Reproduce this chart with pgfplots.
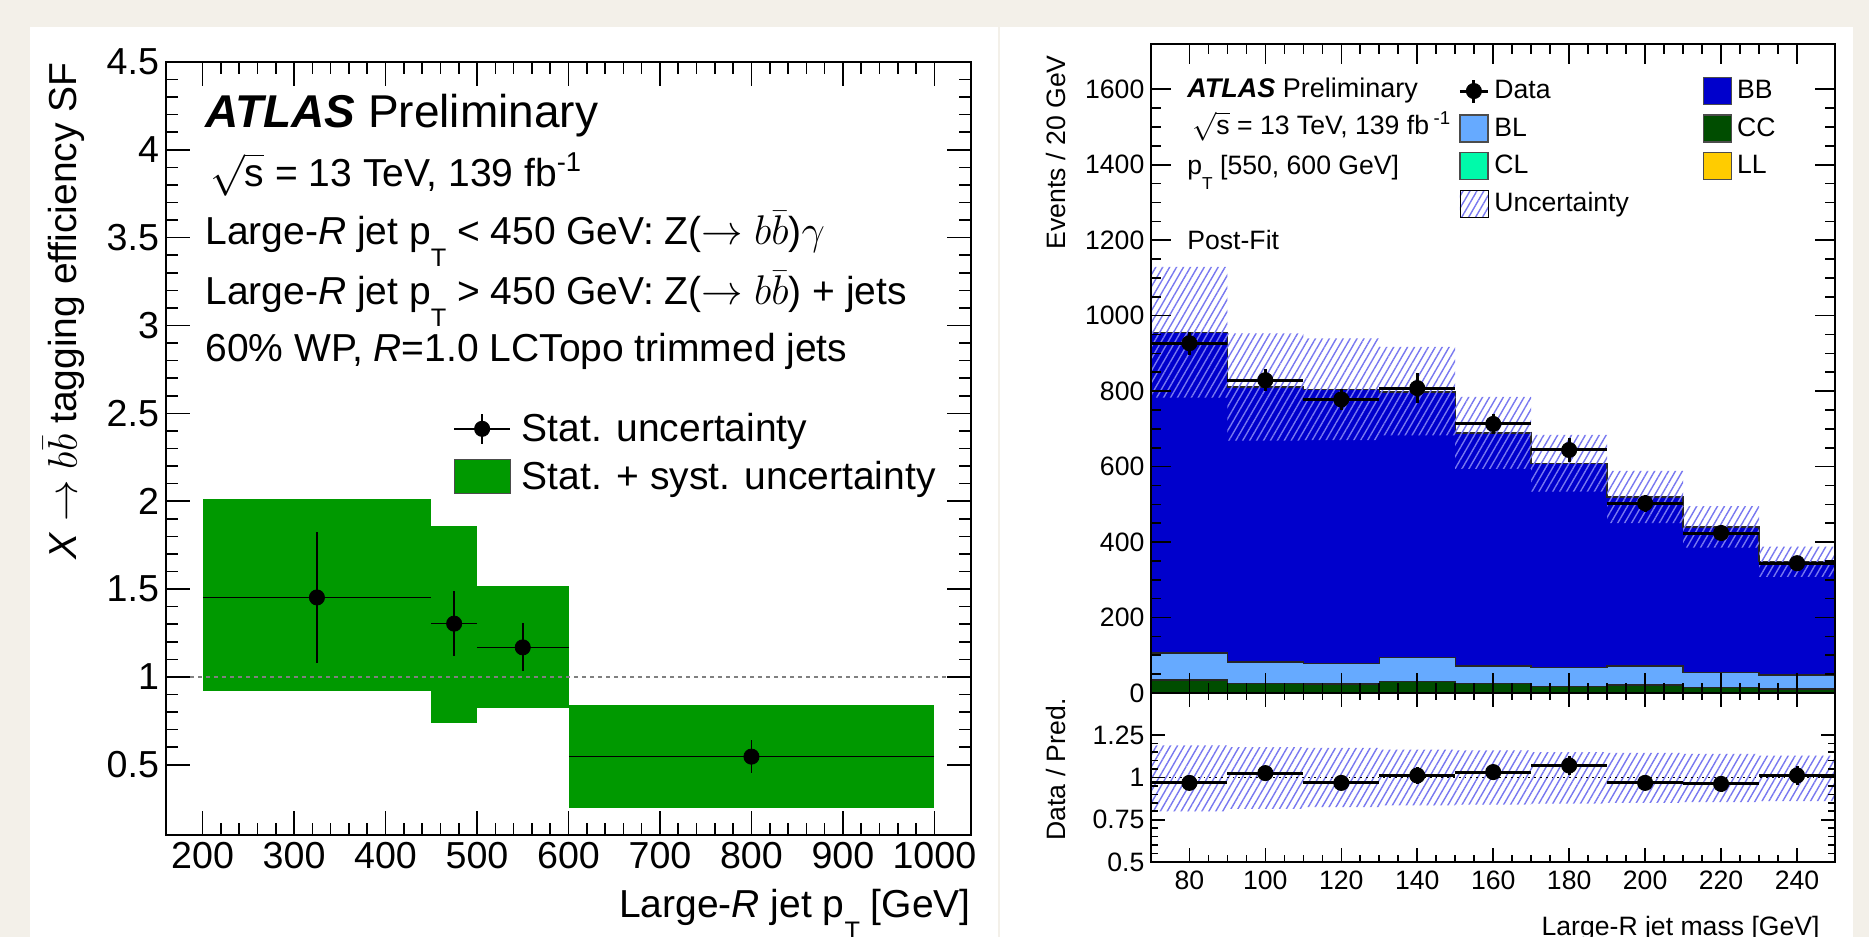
\documentclass[border=0pt]{standalone}
\usepackage{fontspec}
\setmainfont{Liberation Sans}
\usepackage{graphicx}
\usepackage{pgfplots}
\pgfplotsset{compat=1.18}
\usetikzlibrary{patterns.meta}

\definecolor{bgbeige}{RGB}{243,240,233}
\definecolor{sfgreen}{RGB}{0,153,0}
\definecolor{bbblue}{RGB}{0,0,204}
\definecolor{blblue}{RGB}{102,170,255}
\definecolor{ccgreen}{RGB}{0,77,0}
\definecolor{clgreen}{RGB}{0,250,170}
\definecolor{llyellow}{RGB}{255,204,0}
\definecolor{hatch}{RGB}{120,120,240}

\newcommand{\pT}{p\raisebox{-0.55em}{\scalebox{0.65}{T}}}

\pgfplotsset{
  rootstyle/.style={
    scale only axis, anchor=south west, axis on top,
    tick align=inside, tick pos=both,
    axis line style={line width=1pt},
    major tick style={line width=0.8pt, black},
    minor tick style={line width=0.8pt, black},
    /pgf/number format/assume math mode=true,
    /pgf/number format/1000 sep={},
  },
}

\begin{document}
\begin{tikzpicture}
\useasboundingbox (0,0) rectangle (934.5pt,468.5pt);
\clip (0,0) rectangle (934.5pt,468.5pt);
\fill[bgbeige] (0,0) rectangle (934.5pt,468.5pt);
\fill[white] (15pt,0pt) rectangle (499pt,455pt);
\fill[white] (500pt,0pt) rectangle (926.5pt,455pt);

% ---------------- left: scale factors ----------------
\begin{axis}[rootstyle,
  at={(83pt,51pt)}, width=402.5pt, height=386.5pt,
  xmin=160, xmax=1040, ymin=0.1, ymax=4.5,
  xtick={200,300,...,1000}, minor x tick num=4,
  ytick={0.5,1,...,4.5}, minor y tick num=4,
  major tick length=12pt, minor tick length=6pt,
  tick label style={font=\fontsize{18.8}{18.8}\selectfont},
  xlabel={Large-\textit{R} jet \pT{} [GeV]},
  xlabel style={at={(rel axis cs:1,0)}, anchor=base east, yshift=-41.5pt, inner sep=0pt, font=\fontsize{19.5}{19.5}\selectfont},
  ylabel={\textit{X} $\rightarrow$ $b\bar{b}$ tagging efficiency SF},
  ylabel style={at={(rel axis cs:-0.1106,1)}, anchor=base east, inner sep=0pt, font=\fontsize{19.5}{19.5}\selectfont},
  legend cell align=left,
  legend style={at={(rel axis cs:0.3565,0.557)}, anchor=north west, draw=none, fill=none, inner sep=0pt,
    font=\fontsize{19.5}{19.5}\selectfont, row sep=0pt,
    nodes={inner sep=0pt, minimum height=24pt},
    /tikz/every odd column/.append style={column sep=5.5pt}},
]
\addplot[forget plot, fill=sfgreen, draw=none] coordinates {(200,0.92) (450,0.92) (450,2.015) (200,2.015)} -- cycle;
\addplot[forget plot, fill=sfgreen, draw=none] coordinates {(450,0.739) (500,0.739) (500,1.861) (450,1.861)} -- cycle;
\addplot[forget plot, fill=sfgreen, draw=none] coordinates {(500,0.824) (600,0.824) (600,1.519) (500,1.519)} -- cycle;
\addplot[forget plot, fill=sfgreen, draw=none] coordinates {(600,0.256) (1000,0.256) (1000,0.838) (600,0.838)} -- cycle;
\addplot[forget plot, gray, dash pattern=on 2pt off 2pt, line width=0.8pt] coordinates {(160,1) (1040,1)};
\addplot[forget plot, only marks, black, mark=*, mark size=3.8pt,
  error bars/.cd, x dir=both, x explicit, y dir=both, y explicit, error mark=none,
  error bar style={line width=0.75pt, black}]
  coordinates {
  (325,1.452) +- (125,0.372)
  (475,1.303) +- (25,0.185)
  (550,1.168) +- (50,0.137)
  (800,0.546) +- (200,0.094)
  };
\addlegendimage{legend image code/.code={
  \draw[black, line width=0.75pt] (0pt,0pt) -- (28pt,0pt);
  \draw[black, line width=0.75pt] (14pt,-7.5pt) -- (14pt,7.5pt);
  \fill[black] (14pt,0pt) circle (3.8pt);}}
\addlegendentry{Stat. uncertainty}
\addlegendimage{legend image code/.code={
  \draw[black!70, line width=0.6pt, fill=sfgreen] (0pt,-8.5pt) rectangle (28pt,8.5pt);}}
\addlegendentry{Stat. + syst. uncertainty}
\end{axis}

\begin{scope}[every node/.style={anchor=base west, inner sep=0pt, font=\fontsize{19.5}{19.5}\selectfont}]
\node[font=\fontsize{23}{23}\selectfont] at (102.5pt,404.5pt) {\textbf{\textit{ATLAS}} Preliminary};
\node at (105pt,375pt) {$\sqrt{\mbox{s}}$ = 13 TeV, 139 fb\textsuperscript{-1}};
\node at (102.5pt,346pt) {Large-\textit{R} jet \pT{} < 450 GeV: Z($\rightarrow$ $b\bar{b}$)$\gamma$};
\node at (102.5pt,316pt) {Large-\textit{R} jet \pT{} > 450 GeV: Z($\rightarrow$ $b\bar{b}$) + jets};
\node at (102.5pt,287.5pt) {60\% WP, \textit{R}=1.0 LCTopo trimmed jets};
\end{scope}

% ---------------- right: post-fit mass distribution ----------------
\begin{axis}[rootstyle,
  at={(575.7pt,122pt)}, width=341.8pt, height=324.5pt,
  xmin=70, xmax=250, ymin=0, ymax=1720,
  xtick={80,100,...,240}, minor x tick num=3, xticklabels={},
  ytick={0,200,...,1600}, minor y tick num=3,
  major tick length=10pt, minor tick length=5pt,
  tick label style={font=\fontsize{13.3}{13.3}\selectfont},
  ylabel={Events / 20 GeV},
  ylabel style={at={(rel axis cs:-0.1264,0.983)}, anchor=base east, inner sep=0pt, font=\fontsize{13.3}{13.3}\selectfont},
  legend columns=2, legend cell align=left,
  legend style={at={(rel axis cs:0.4485,0.957)}, anchor=north west, draw=none, fill=none, inner sep=0pt,
    font=\fontsize{13.3}{13.3}\selectfont, row sep=0pt,
    nodes={inner sep=0pt, minimum height=18.75pt},
    /tikz/every odd column/.append style={column sep=2.5pt},
    /tikz/every even column/.append style={column sep=37pt}},
]
% stacked templates (cumulative tops)
\addplot[forget plot, const plot, fill=bbblue, draw=black!85, line width=0.7pt] coordinates {
  (70,955) (90,811) (110,805) (130,798) (150,689) (170,609) (190,519) (210,440) (230,348) (250,348)} \closedcycle;
\addplot[forget plot, const plot, fill=blblue, draw=black!85, line width=0.7pt] coordinates {
  (70,106) (90,82) (110,78) (130,94) (150,72) (170,68) (190,72) (210,54) (230,48) (250,48)} \closedcycle;
\addplot[forget plot, const plot, fill=ccgreen, draw=black!85, line width=0.7pt] coordinates {
  (70,34) (90,25) (110,24) (130,30) (150,25) (170,17) (190,21) (210,15) (230,11) (250,11)} \closedcycle;
% uncertainty band
\addplot[forget plot, draw=none, pattern={Lines[angle=60,distance=3pt,line width=0.7pt]}, pattern color=hatch] coordinates {
  (70,1129) (90,1129) (90,953) (110,953) (110,940) (130,940) (130,917) (150,917) (150,785) (170,785)
  (170,684) (190,684) (190,589) (210,589) (210,495) (230,495) (230,388) (250,388)
  (250,308) (230,308) (230,385) (210,385) (210,450) (190,450) (190,534) (170,534)
  (170,594) (150,594) (150,683) (130,683) (130,670) (110,670) (110,669) (90,669) (90,783) (70,783)} -- cycle;
% data
\addplot[forget plot, only marks, black, mark=*, mark size=3.8pt,
  error bars/.cd, x dir=both, x explicit, y dir=both, y explicit, error mark=none,
  error bar style={line width=1.5pt, black}]
  coordinates {
  (80,927) +- (10,30) (100,829) +- (10,29) (120,778) +- (10,28)
  (140,808) +- (10,40) (160,713) +- (10,27) (180,644) +- (10,33)
  (200,503) +- (10,22) (220,424) +- (10,21) (240,344) +- (10,19)
  };
\addlegendimage{legend image code/.code={
  \draw[black, line width=1.5pt] (0pt,0pt) -- (14pt,0pt);
  \draw[black, line width=1.5pt] (7pt,-5.75pt) -- (7pt,5.75pt);
  \fill[black] (7pt,0pt) circle (3.8pt);}}
\addlegendentry{Data}
\addlegendimage{legend image code/.code={\draw[black!70, line width=0.6pt, fill=bbblue] (0pt,-6.75pt) rectangle (14pt,6.75pt);}}
\addlegendentry{BB}
\addlegendimage{legend image code/.code={\draw[black!70, line width=0.6pt, fill=blblue] (0pt,-6.75pt) rectangle (14pt,6.75pt);}}
\addlegendentry{BL}
\addlegendimage{legend image code/.code={\draw[black!70, line width=0.6pt, fill=ccgreen] (0pt,-6.75pt) rectangle (14pt,6.75pt);}}
\addlegendentry{CC}
\addlegendimage{legend image code/.code={\draw[black!70, line width=0.6pt, fill=clgreen] (0pt,-6.75pt) rectangle (14pt,6.75pt);}}
\addlegendentry{CL}
\addlegendimage{legend image code/.code={\draw[black!70, line width=0.6pt, fill=llyellow] (0pt,-6.75pt) rectangle (14pt,6.75pt);}}
\addlegendentry{LL}
\addlegendimage{legend image code/.code={\fill[pattern={Lines[angle=60,distance=3pt,line width=0.7pt]}, pattern color=hatch] (0pt,-6.75pt) rectangle (14pt,6.75pt);}}
\addlegendentry{Uncertainty}
\end{axis}

\begin{axis}[rootstyle,
  at={(575.7pt,37.5pt)}, width=341.8pt, height=84.5pt,
  xmin=70, xmax=250, ymin=0.5, ymax=1.5,
  xtick={80,100,...,240}, minor x tick num=3,
  ytick={0.5,0.75,1,1.25}, minor y tick num=4,
  tick label style={font=\fontsize{13.3}{13.3}\selectfont},
  x tick label style={yshift=-1pt},
  major tick length=7pt, minor tick length=3.5pt,
  xlabel={Large-R jet mass [GeV]},
  xlabel style={at={(rel axis cs:0.978,0)}, anchor=base east, yshift=-37pt, inner sep=0pt, font=\fontsize{13.3}{13.3}\selectfont},
  ylabel={Data / Pred.},
  ylabel style={at={(rel axis cs:-0.125,0.97)}, anchor=base east, inner sep=0pt, font=\fontsize{13.3}{13.3}\selectfont},
]
\addplot[forget plot, draw=none, pattern={Lines[angle=60,distance=3pt,line width=0.7pt]}, pattern color=hatch] coordinates {
  (70,1.19) (90,1.19) (90,1.18) (110,1.18) (110,1.175) (130,1.175) (130,1.165) (150,1.165) (150,1.16) (170,1.16)
  (170,1.15) (190,1.15) (190,1.145) (210,1.145) (210,1.14) (230,1.14) (230,1.13) (250,1.13)
  (250,0.86) (230,0.86) (230,0.855) (210,0.855) (210,0.85) (190,0.85) (190,0.845) (170,0.845)
  (170,0.84) (150,0.84) (150,0.835) (130,0.835) (130,0.825) (110,0.825) (110,0.815) (90,0.815) (90,0.80) (70,0.80)} -- cycle;
\addplot[forget plot, black, dotted, line width=0.9pt] coordinates {(70,1) (250,1)};
\addplot[forget plot, only marks, black, mark=*, mark size=3.8pt,
  error bars/.cd, x dir=both, x explicit, y dir=both, y explicit, error mark=none,
  error bar style={line width=1.5pt, black}]
  coordinates {
  (80,0.968) +- (10,0.031) (100,1.026) +- (10,0.036) (120,0.968) +- (10,0.035)
  (140,1.012) +- (10,0.050) (160,1.032) +- (10,0.039) (180,1.071) +- (10,0.054)
  (200,0.968) +- (10,0.042) (220,0.962) +- (10,0.048) (240,1.012) +- (10,0.055)
  };
\end{axis}

\begin{scope}[every node/.style={anchor=base west, inner sep=0pt, font=\fontsize{13.3}{13.3}\selectfont}]
\node[font=\fontsize{13.5}{13.5}\selectfont] at (593.5pt,419.5pt) {\textbf{\textit{ATLAS}} Preliminary};
\node at (596pt,401pt) {$\sqrt{\mbox{s}}$ = 13 TeV, 139 fb\,\textsuperscript{-1}};
\node at (593.5pt,381pt) {\pT{} [550, 600 GeV]};
\node at (593.5pt,343.5pt) {Post-Fit};
\end{scope}
\end{tikzpicture}
\end{document}
